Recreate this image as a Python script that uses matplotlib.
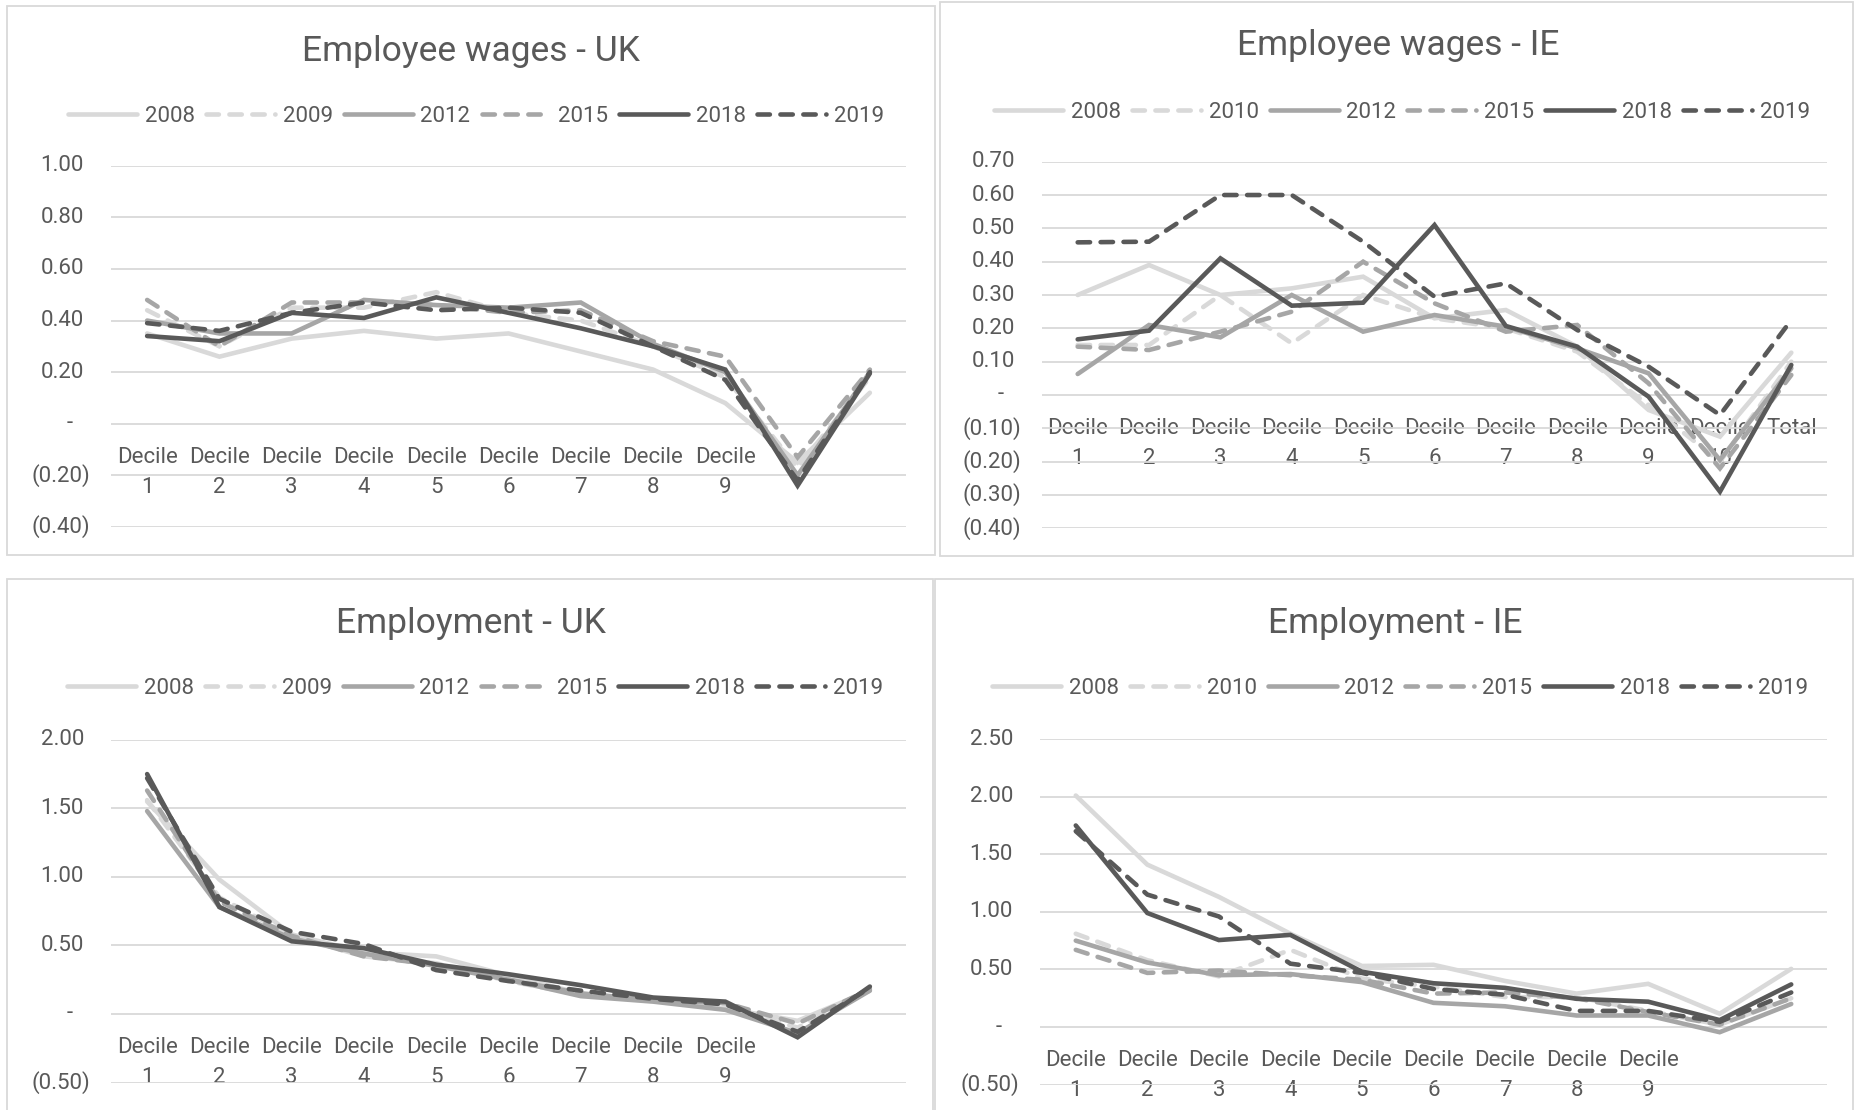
import matplotlib
matplotlib.use("Agg")
import matplotlib.pyplot as plt
from matplotlib.patches import Rectangle
from matplotlib.lines import Line2D
import matplotlib.transforms as mtransforms

plt.rcParams['font.family'] = ['Roboto', 'DejaVu Sans']

# ---------------- data ----------------
n_cats = 11
labels_uk = ["Decile\n1", "Decile\n2", "Decile\n3", "Decile\n4", "Decile\n5",
             "Decile\n6", "Decile\n7", "Decile\n8", "Decile\n9", "", ""]
labels_ie_wages = ["Decile\n1", "Decile\n2", "Decile\n3", "Decile\n4", "Decile\n5",
                   "Decile\n6", "Decile\n7", "Decile\n8", "Decile\n9", "Decile\n10", "Total"]
labels_ie_emp = ["Decile\n1", "Decile\n2", "Decile\n3", "Decile\n4", "Decile\n5",
                 "Decile\n6", "Decile\n7", "Decile\n8", "Decile\n9", "", ""]

years_uk = ["2008", "2009", "2012", "2015", "2018", "2019"]
years_ie = ["2008", "2010", "2012", "2015", "2018", "2019"]

uk_wage_2008 = [0.35, 0.26, 0.33, 0.36, 0.33, 0.35, 0.28, 0.21, 0.08, -0.15, 0.12]
uk_wage_2009 = [0.44, 0.30, 0.45, 0.45, 0.51, 0.43, 0.40, 0.30, 0.18, -0.17, 0.18]
uk_wage_2012 = [0.40, 0.35, 0.35, 0.48, 0.46, 0.45, 0.47, 0.31, 0.20, -0.20, 0.20]
uk_wage_2015 = [0.48, 0.30, 0.47, 0.47, 0.46, 0.43, 0.44, 0.32, 0.26, -0.13, 0.21]
uk_wage_2018 = [0.34, 0.32, 0.43, 0.41, 0.49, 0.43, 0.37, 0.30, 0.21, -0.24, 0.195]
uk_wage_2019 = [0.39, 0.36, 0.43, 0.47, 0.44, 0.45, 0.43, 0.30, 0.17, -0.22, 0.20]

ie_wage_2008 = [0.30, 0.39, 0.30, 0.32, 0.355, 0.23, 0.255, 0.145, -0.045, -0.125, 0.127]
ie_wage_2010 = [0.15, 0.15, 0.30, 0.155, 0.30, 0.23, 0.20, 0.13, -0.03, -0.20, 0.10]
ie_wage_2012 = [0.063, 0.21, 0.173, 0.30, 0.19, 0.24, 0.205, 0.14, 0.065, -0.195, 0.08]
ie_wage_2015 = [0.145, 0.135, 0.19, 0.25, 0.40, 0.275, 0.19, 0.21, 0.035, -0.22, 0.06]
ie_wage_2018 = [0.167, 0.193, 0.41, 0.268, 0.277, 0.51, 0.207, 0.145, -0.005, -0.29, 0.09]
ie_wage_2019 = [0.458, 0.46, 0.60, 0.60, 0.46, 0.295, 0.335, 0.195, 0.085, -0.06, 0.225]

uk_emp_2008 = [1.55, 0.98, 0.58, 0.45, 0.42, 0.28, 0.15, 0.10, 0.04, -0.05, 0.17]
uk_emp_2009 = [1.56, 0.85, 0.57, 0.42, 0.37, 0.24, 0.14, 0.10, 0.05, -0.10, 0.17]
uk_emp_2012 = [1.48, 0.78, 0.55, 0.44, 0.35, 0.25, 0.13, 0.09, 0.03, -0.14, 0.17]
uk_emp_2015 = [1.63, 0.82, 0.57, 0.42, 0.36, 0.25, 0.15, 0.10, 0.08, -0.07, 0.18]
uk_emp_2018 = [1.75, 0.78, 0.53, 0.48, 0.36, 0.29, 0.21, 0.12, 0.09, -0.17, 0.20]
uk_emp_2019 = [1.72, 0.84, 0.60, 0.51, 0.32, 0.24, 0.17, 0.11, 0.07, -0.13, 0.19]

ie_emp_2008 = [2.01, 1.41, 1.13, 0.81, 0.53, 0.54, 0.40, 0.29, 0.375, 0.115, 0.505]
ie_emp_2010 = [0.81, 0.58, 0.44, 0.67, 0.42, 0.35, 0.26, 0.26, 0.14, 0.02, 0.25]
ie_emp_2012 = [0.75, 0.56, 0.45, 0.46, 0.39, 0.21, 0.18, 0.10, 0.10, -0.045, 0.20]
ie_emp_2015 = [0.67, 0.47, 0.49, 0.45, 0.41, 0.29, 0.30, 0.25, 0.13, 0.02, 0.25]
ie_emp_2018 = [1.75, 0.99, 0.755, 0.80, 0.48, 0.38, 0.34, 0.245, 0.22, 0.06, 0.37]
ie_emp_2019 = [1.70, 1.15, 0.96, 0.55, 0.47, 0.33, 0.28, 0.14, 0.14, 0.045, 0.30]

uk_wage_ticks = [-0.4, -0.2, 0.0, 0.2, 0.4, 0.6, 0.8, 1.0]
ie_wage_ticks = [-0.4, -0.3, -0.2, -0.1, 0.0, 0.1, 0.2, 0.3, 0.4, 0.5, 0.6, 0.7]
uk_emp_ticks = [-0.5, 0.0, 0.5, 1.0, 1.5, 2.0]
ie_emp_ticks = [-0.5, 0.0, 0.5, 1.0, 1.5, 2.0, 2.5]

# ---------------- style ----------------
W, H = 1854, 1110
TXT = '#595959'
GRID = '#D9D9D9'
series_colors = ['#D9D9D9', '#D9D9D9', '#A6A6A6', '#A6A6A6', '#595959', '#595959']
series_dashed = [False, True, False, True, False, True]
LW = 3.3
DASH = (2.7, 2.3)
TICK_FS = 16
TITLE_FS = 25.5

fig = plt.figure(figsize=(W / 100, H / 100), dpi=100)


def fx(px):
    return px / W


def fy(py):
    return 1 - py / H


def fmt(v):
    if abs(v) < 1e-9:
        return "-"
    if v < 0:
        return "(%.2f)" % (-v)
    return "%.2f" % v


def panel(box, axrect, title, title_xy, legend_xy, years, series, ticks, cat_labels):
    bx0, by0, bx1, by1 = box
    fig.patches.append(Rectangle((fx(bx0), fy(by1)), (bx1 - bx0) / W, (by1 - by0) / H,
                                 transform=fig.transFigure, fill=False,
                                 edgecolor=GRID, linewidth=1.3, zorder=0))
    l, t, r, b = axrect
    ax = fig.add_axes([fx(l), fy(b), (r - l) / W, (b - t) / H])
    ax.set_facecolor('none')
    x = list(range(n_cats))
    handles = []
    for vals, c, d, yr in zip(series, series_colors, series_dashed, years):
        ln, = ax.plot(x, vals, color=c, linewidth=LW, zorder=3,
                      solid_capstyle='round', solid_joinstyle='miter',
                      dash_capstyle='round', dash_joinstyle='miter', label=yr)
        if d:
            ln.set_dashes(DASH)
        h = Line2D([0], [0], color=c, linewidth=LW, solid_capstyle='round',
                   dash_capstyle='round')
        if d:
            h.set_dashes(DASH)
        handles.append(h)
    ax.set_xlim(-0.5, n_cats - 0.5)
    ax.set_ylim(ticks[0], ticks[-1])
    ax.set_yticks(ticks)
    ax.yaxis.grid(True, color=GRID, linewidth=1.3)
    ax.tick_params(axis='y', length=0, labelleft=False)
    for s in ['left', 'right', 'top']:
        ax.spines[s].set_visible(False)
    ax.spines['bottom'].set_position(('data', 0))
    ax.spines['bottom'].set_color('none')
    ax.set_xticks(x)
    ax.set_xticklabels(cat_labels, fontsize=TICK_FS, color=TXT, linespacing=1.58,
                       va='top')
    ax.tick_params(axis='x', length=0, pad=16.5)
    ax.set_axisbelow(True)
    tr = ax.get_yaxis_transform()
    for v in ticks:
        s = fmt(v)
        if s == "-":
            off, ha = -41, 'center'
        elif v < 0:
            off, ha = -21, 'right'
        else:
            off, ha = -27, 'right'
        t_ = mtransforms.offset_copy(tr, fig=fig, x=off, y=0, units='dots')
        ax.text(0, v, s, transform=t_, ha=ha, va='center', fontsize=TICK_FS, color=TXT)
    fig.text(fx(title_xy[0]), fy(title_xy[1]), title, ha='center', va='center',
             fontsize=TITLE_FS, color=TXT)
    fig.legend(handles, years, loc='center',
               bbox_to_anchor=(fx(legend_xy[0]), fy(legend_xy[1])),
               bbox_transform=fig.transFigure, ncol=6, frameon=False,
               handlelength=3.1, handletextpad=0.35, columnspacing=0.5,
               fontsize=TICK_FS, labelcolor=TXT, borderpad=0, borderaxespad=0)
    return ax


panel((7, 6, 935, 555), (111, 165.8, 906, 526.9), "Employee wages - UK", (471, 51), (476, 116),
      years_uk,
      [uk_wage_2008, uk_wage_2009, uk_wage_2012, uk_wage_2015, uk_wage_2018, uk_wage_2019],
      uk_wage_ticks, labels_uk)

panel((940, 2, 1853, 556), (1042, 161.7, 1827, 528.3), "Employee wages - IE", (1398, 46), (1402, 112.5),
      years_ie,
      [ie_wage_2008, ie_wage_2010, ie_wage_2012, ie_wage_2015, ie_wage_2018, ie_wage_2019],
      ie_wage_ticks, labels_ie_wages)

panel((7, 579, 933, 1115), (111, 739.8, 906, 1082.5), "Employment - UK", (471, 624), (475, 688.5),
      years_uk,
      [uk_emp_2008, uk_emp_2009, uk_emp_2012, uk_emp_2015, uk_emp_2018, uk_emp_2019],
      uk_emp_ticks, labels_uk)

panel((935, 579, 1853, 1115), (1040, 739.1, 1827, 1084.6), "Employment - IE", (1395, 624), (1400, 688.5),
      years_ie,
      [ie_emp_2008, ie_emp_2010, ie_emp_2012, ie_emp_2015, ie_emp_2018, ie_emp_2019],
      ie_emp_ticks, labels_ie_emp)

fig.savefig("out.png", dpi=100, facecolor='white')
